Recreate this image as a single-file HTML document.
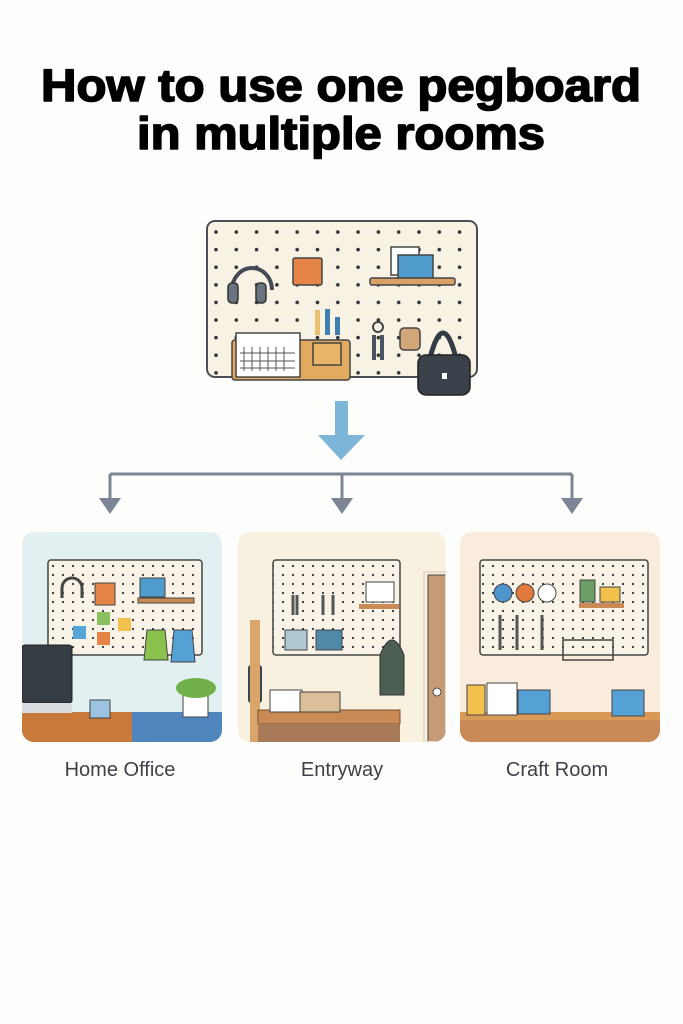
<!DOCTYPE html>
<html><head><meta charset="utf-8"><style>
html,body{margin:0;padding:0;background:#fdfdfc;}
svg{display:block}
</style></head><body>
<svg width="683" height="1024" viewBox="0 0 683 1024" xmlns="http://www.w3.org/2000/svg">
<defs>
<pattern id="d1" x="213" y="229" width="20.3" height="17.6" patternUnits="userSpaceOnUse"><circle cx="3" cy="3" r="1.8" fill="#2f3338"/></pattern>
<pattern id="d2" x="50" y="563" width="10" height="9" patternUnits="userSpaceOnUse"><circle cx="3" cy="3" r="1.1" fill="#2f3338"/></pattern>
</defs>
<rect width="683" height="1024" fill="#fdfdfc"/>
<g font-family="Liberation Sans, sans-serif" font-weight="bold" font-size="45" fill="#000" stroke="#000" stroke-width="1.6" stroke-linejoin="round" text-anchor="middle">
<text x="341" y="101" textLength="600" lengthAdjust="spacingAndGlyphs">How to use one pegboard</text>
<text x="341" y="149" textLength="408" lengthAdjust="spacingAndGlyphs">in multiple rooms</text>
</g>
<!-- main pegboard -->
<rect x="207" y="221" width="270" height="156" rx="8" fill="#f7f2e3" stroke="#4a4f55" stroke-width="2"/>
<rect x="207" y="221" width="270" height="156" rx="8" fill="url(#d1)"/>
<path d="M232 290 a20 22 0 0 1 40 0" fill="none" stroke="#444b55" stroke-width="4"/>
<rect x="228" y="283" width="10" height="20" rx="4" fill="#6a7380" stroke="#333" stroke-width="1.5"/>
<rect x="256" y="283" width="10" height="20" rx="4" fill="#6a7380" stroke="#333" stroke-width="1.5"/>
<rect x="293" y="258" width="29" height="27" rx="2" fill="#e58447" stroke="#444" stroke-width="1.5"/>
<rect x="391" y="247" width="28" height="28" fill="#fff" stroke="#444" stroke-width="1.5"/>
<rect x="398" y="255" width="35" height="23" fill="#4f9ccc" stroke="#444" stroke-width="1.5"/>
<rect x="370" y="278" width="85" height="7" rx="2" fill="#d9a166" stroke="#444" stroke-width="1.5"/>
<rect x="232" y="340" width="118" height="40" rx="3" fill="#e2aa5f" stroke="#444" stroke-width="1.5"/>
<rect x="236" y="333" width="64" height="44" fill="#fff" stroke="#444" stroke-width="1.5"/>
<path d="M244 347v24M252 347v24M260 347v24M268 347v24M276 347v24M284 347v24M240 353h55M240 361h55M240 368h55" stroke="#555" stroke-width="1"/>
<rect x="315" y="310" width="5" height="25" fill="#e8c070"/><rect x="325" y="309" width="5" height="26" fill="#3f7fb0"/><rect x="335" y="317" width="5" height="18" fill="#3f7fb0"/>
<rect x="313" y="343" width="28" height="22" fill="#e7b767" stroke="#444" stroke-width="1.5"/>
<circle cx="378" cy="327" r="5" fill="none" stroke="#444" stroke-width="2"/>
<path d="M374 335v25M382 335v25" stroke="#4b5560" stroke-width="4"/>
<rect x="400" y="328" width="20" height="22" rx="4" fill="#d1a77a" stroke="#444" stroke-width="1.5"/>
<path d="M430 358 q13 -50 26 0" fill="none" stroke="#333b45" stroke-width="5"/>
<rect x="418" y="355" width="52" height="40" rx="8" fill="#3a414b" stroke="#222" stroke-width="1.5"/>
<rect x="442" y="373" width="5" height="6" fill="#fff"/>
<rect x="335" y="401" width="13" height="36" fill="#7db5d8"/>
<polygon points="318,435 365,435 341,460" fill="#7db5d8"/>
<path d="M110 474H572M110 474V499M342 474V499M572 474V499" stroke="#7c8594" stroke-width="3" fill="none"/>
<polygon points="99,498 121,498 110,514" fill="#7c8594"/>
<polygon points="331,498 353,498 342,514" fill="#7c8594"/>
<polygon points="561,498 583,498 572,514" fill="#7c8594"/>
<!-- panel 1 -->
<clipPath id="c1"><rect x="22" y="532" width="200" height="210" rx="12"/></clipPath>
<g clip-path="url(#c1)">
<rect x="22" y="532" width="200" height="210" fill="#e3f0f2"/>
<rect x="48" y="560" width="154" height="95" rx="3" fill="#f8f3e6" stroke="#444" stroke-width="1.5"/>
<rect x="48" y="560" width="154" height="95" fill="url(#d2)"/>
<path d="M62 598 v-10 a10 10 0 0 1 20 0 v10" fill="none" stroke="#444" stroke-width="3"/>
<rect x="95" y="583" width="20" height="22" fill="#e58447" stroke="#444"/>
<rect x="140" y="578" width="25" height="19" fill="#4f9ccc" stroke="#444"/>
<rect x="138" y="598" width="56" height="5" fill="#c98a55" stroke="#444"/>
<rect x="97" y="612" width="13" height="13" fill="#8bc060"/><rect x="118" y="618" width="13" height="13" fill="#f2c04d"/><rect x="73" y="626" width="13" height="13" fill="#55a6d6"/><rect x="97" y="632" width="13" height="13" fill="#e58447"/>
<path d="M147 630 h18 l3 30 h-24 z" fill="#8bc24d" stroke="#444"/>
<path d="M174 630 h18 l3 32 h-24 z" fill="#55a0d5" stroke="#444"/>
<rect x="22" y="712" width="200" height="30" fill="#4f86bd"/>
<rect x="22" y="712" width="110" height="30" fill="#c97a3a"/>
<rect x="22" y="645" width="50" height="58" rx="3" fill="#373d45" stroke="#222"/>
<rect x="22" y="703" width="50" height="10" fill="#d8dbe0"/>
<path d="M90 700 h20 v18 h-20 z" fill="#9cc4e0" stroke="#444"/>
<rect x="183" y="695" width="25" height="22" fill="#fff" stroke="#444"/>
<ellipse cx="196" cy="688" rx="20" ry="10" fill="#72b04a"/>
</g>
<!-- panel 2 -->
<clipPath id="c2"><rect x="238" y="532" width="208" height="210" rx="12"/></clipPath>
<g clip-path="url(#c2)">
<rect x="238" y="532" width="208" height="210" fill="#f8f1df"/>
<rect x="273" y="560" width="127" height="95" rx="3" fill="#f8f3e6" stroke="#444" stroke-width="1.5"/>
<rect x="273" y="560" width="127" height="95" fill="url(#d2)"/>
<path d="M428 575 h18 v167 h-18 z" fill="#c89b78" stroke="#444"/>
<rect x="424" y="572" width="22" height="170" fill="none" stroke="#e8dcc8" stroke-width="2"/>
<circle cx="437" cy="692" r="4" fill="#fff" stroke="#444"/>
<rect x="366" y="582" width="28" height="20" fill="#fff" stroke="#444"/>
<rect x="359" y="604" width="40" height="5" fill="#c98a55"/>
<path d="M293 595v20M297 595v20M323 595v20M333 595v20" stroke="#555" stroke-width="3"/>
<rect x="285" y="630" width="22" height="20" fill="#b0c8d4" stroke="#444"/>
<rect x="316" y="630" width="26" height="20" fill="#4e8aa8" stroke="#444"/>
<path d="M380 655 q12 -30 24 0 v40 h-24 z" fill="#4d5e52" stroke="#333"/>
<rect x="248" y="665" width="14" height="38" rx="3" fill="#3d4550"/>
<rect x="250" y="620" width="10" height="122" fill="#d9a56b"/>
<rect x="258" y="710" width="142" height="14" fill="#c98a55" stroke="#7a5030"/>
<rect x="258" y="724" width="142" height="18" fill="#a87a58"/>
<rect x="270" y="690" width="32" height="22" fill="#fff" stroke="#444"/>
<rect x="300" y="692" width="40" height="20" fill="#dbbf9a" stroke="#444"/>
</g>
<!-- panel 3 -->
<clipPath id="c3"><rect x="460" y="532" width="200" height="210" rx="12"/></clipPath>
<g clip-path="url(#c3)">
<rect x="460" y="532" width="200" height="210" fill="#f9ecdc"/>
<rect x="480" y="560" width="168" height="95" rx="3" fill="#f8f3e6" stroke="#444" stroke-width="1.5"/>
<rect x="480" y="560" width="168" height="95" fill="url(#d2)"/>
<circle cx="503" cy="593" r="9" fill="#4f94cc" stroke="#444"/><circle cx="525" cy="593" r="9" fill="#e27a3d" stroke="#444"/><circle cx="547" cy="593" r="9" fill="#fff" stroke="#444"/>
<rect x="580" y="580" width="15" height="22" fill="#6a9e64" stroke="#444"/><rect x="600" y="587" width="20" height="15" fill="#f2c04d" stroke="#444"/>
<rect x="579" y="603" width="45" height="5" fill="#c98a55"/>
<path d="M500 615v35M517 615v35M542 615v35" stroke="#555" stroke-width="3"/>
<rect x="563" y="640" width="50" height="20" fill="none" stroke="#444" stroke-width="1.5"/>
<rect x="460" y="712" width="200" height="30" fill="#d99a58"/>
<rect x="460" y="720" width="200" height="22" fill="#c98a55"/>
<rect x="467" y="685" width="18" height="30" fill="#f2c04d" stroke="#444"/>
<rect x="487" y="683" width="30" height="32" fill="#fff" stroke="#444"/>
<rect x="518" y="690" width="32" height="24" fill="#55a0d5" stroke="#444"/>
<rect x="612" y="690" width="32" height="26" fill="#55a0d5" stroke="#444"/>
</g>
<g font-family="Liberation Sans, sans-serif" font-size="20" fill="#3d4148" text-anchor="middle">
<text x="120" y="776">Home Office</text>
<text x="342" y="776">Entryway</text>
<text x="557" y="776">Craft Room</text>
</g>
</svg>
</body></html>
